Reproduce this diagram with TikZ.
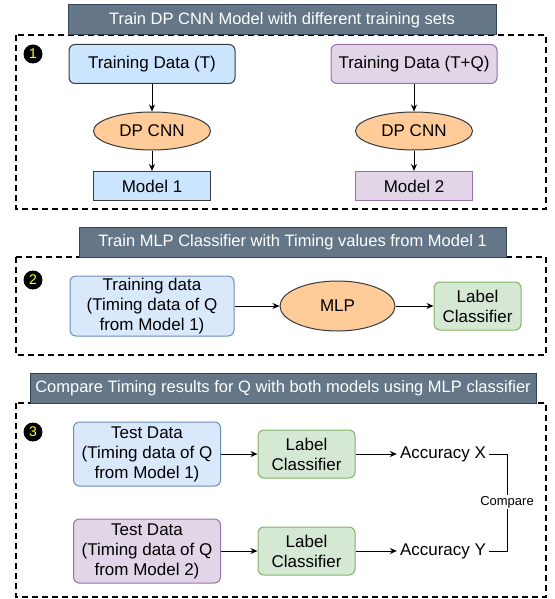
\documentclass[tikz,border=0pt]{standalone}
\usepackage{fontspec}
\setmainfont{Liberation Sans}
\usetikzlibrary{calc}
\usetikzlibrary{shapes.geometric}
\usetikzlibrary{arrows.meta}
\definecolor{slatefill}{HTML}{647687}
\definecolor{slateline}{HTML}{314354}
\definecolor{darkline}{HTML}{36393D}
\definecolor{blueAfill}{HTML}{CCE5FF}
\definecolor{blueBfill}{HTML}{DAE8FC}
\definecolor{blueBline}{HTML}{6C8EBF}
\definecolor{purplefill}{HTML}{E1D5E7}
\definecolor{purpleline}{HTML}{9673A6}
\definecolor{greenfill}{HTML}{D5E8D4}
\definecolor{greenline}{HTML}{82B366}
\definecolor{orangefill}{HTML}{FFCC99}
\definecolor{numyellow}{HTML}{FFFF33}
\newcommand\boxfont{\fontsize{17}{20}\selectfont}
\tikzstyle{titlenode} = [draw=slateline, fill=slatefill, text=white, minimum height=30pt, inner sep=0pt, line width=1pt, font=\fontsize{16.5}{20}\selectfont]
\tikzstyle{stagebox} = [draw, line width=1.5pt, dash pattern=on 6pt off 4pt]
\tikzstyle{stepnum} = [circle, fill=black, text=numyellow, minimum size=19pt, inner sep=0pt, font=\fontsize{14}{16}\selectfont]
\tikzstyle{datanode} = [draw, rectangle, rounded corners=6pt, align=center, inner sep=0pt, line width=1pt, font=\boxfont]
\tikzstyle{modelnode} = [draw, rectangle, inner sep=0pt, line width=1pt, font=\boxfont]
\tikzstyle{nnnode} = [draw=darkline, fill=orangefill, ellipse, inner sep=0pt, line width=1pt, font=\boxfont]
\tikzstyle{colorA} = [fill=blueAfill, draw=darkline]
\tikzstyle{colorB} = [fill=blueBfill, draw=blueBline]
\tikzstyle{colorC} = [fill=purplefill, draw=purpleline]
\tikzstyle{colorD} = [fill=greenfill, draw=greenline]
\tikzstyle{flow} = [-{Stealth[length=7pt,width=6pt]}, line width=1pt]

\begin{document}
\begin{tikzpicture}[x=1pt, y=-1pt]
\useasboundingbox (0,0) rectangle (554,599);
% stage 1
\draw[stagebox] (16,35) rectangle (546,209);
\node[titlenode, minimum width=428pt] (title1) at (282,20) {Train DP CNN Model with different training sets};
\node[stepnum] (num1) at (33,54) {1};
\node[datanode, colorA, minimum width=166pt, minimum height=39pt] (dataT) at (152,64) {Training Data (T)};
\node[datanode, colorC, minimum width=166pt, minimum height=39pt] (dataTQ) at ($(dataT)+(262,0)$) {Training Data (T+Q)};
\node[nnnode, minimum width=117pt, minimum height=38pt] (cnnA) at ($(dataT)+(0,67)$) {DP CNN};
\node[nnnode, minimum width=117pt, minimum height=38pt] (cnnB) at ($(dataTQ)+(0,67)$) {DP CNN};
\node[modelnode, colorA, minimum width=117pt, minimum height=29pt] (model1) at ($(cnnA)+(0,55)$) {Model 1};
\node[modelnode, colorC, minimum width=117pt, minimum height=29pt] (model2) at ($(cnnB)+(0,55)$) {Model 2};
\draw[flow] (dataT) -- (cnnA);
\draw[flow] (cnnA) -- (model1);
\draw[flow] (dataTQ) -- (cnnB);
\draw[flow] (cnnB) -- (model2);

% stage 2
\draw[stagebox] (16,257) rectangle (546,355);
\node[titlenode, minimum width=427pt] (title2) at (292.5,242.5) {Train MLP Classifier with Timing values from Model 1};
\node[stepnum] (num2) at (33,280) {2};
\node[datanode, colorB, minimum width=164pt, minimum height=60pt] (train2) at (152,306) {Training data\\(Timing data of Q\\from Model 1)};
\node[nnnode, minimum width=115pt, minimum height=50pt] (mlp) at ($(train2)+(185.5,0)$) {MLP};
\node[datanode, colorD, minimum width=87pt, minimum height=48pt] (lc0) at ($(mlp)+(140,0)$) {Label\\Classifier};
\draw[flow] (train2) -- (mlp);
\draw[flow] (mlp) -- (lc0);

% stage 3
\draw[stagebox] (16,403) rectangle (546,597);
\node[titlenode, minimum width=506pt] (title3) at (283,388) {Compare Timing results for Q with both models using MLP classifier};
\node[stepnum] (num3) at (33,432) {3};
\node[datanode, colorB, minimum width=147pt, minimum height=64pt] (test1) at (147,454) {Test Data\\(Timing data of Q\\from Model 1)};
\node[datanode, colorC, minimum width=147pt, minimum height=64pt] (test2) at ($(test1)+(0,97)$) {Test Data\\(Timing data of Q\\from Model 2)};
\node[datanode, colorD, minimum width=97pt, minimum height=48pt] (lc1) at ($(test1)+(159.5,0)$) {Label\\Classifier};
\node[datanode, colorD, minimum width=97pt, minimum height=48pt] (lc2) at ($(test2)+(159.5,0)$) {Label\\Classifier};
\node[font=\boxfont, inner sep=3pt] (accX) at ($(lc1)+(136.5,0)$) {Accuracy X};
\node[font=\boxfont, inner sep=3pt] (accY) at ($(lc2)+(136.5,0)$) {Accuracy Y};
\node[font=\fontsize{13}{15}\selectfont, fill=white, inner sep=1pt] (cmp) at (507,502) {Compare};
\draw[flow] (test1) -- (lc1);
\draw[flow] (test2) -- (lc2);
\draw[flow] (lc1) -- (accX);
\draw[flow] (lc2) -- (accY);
\draw[line width=1pt] (accX.east) -| (cmp.north);
\draw[line width=1pt] (accY.east) -| (cmp.south);
\end{tikzpicture}
\end{document}
